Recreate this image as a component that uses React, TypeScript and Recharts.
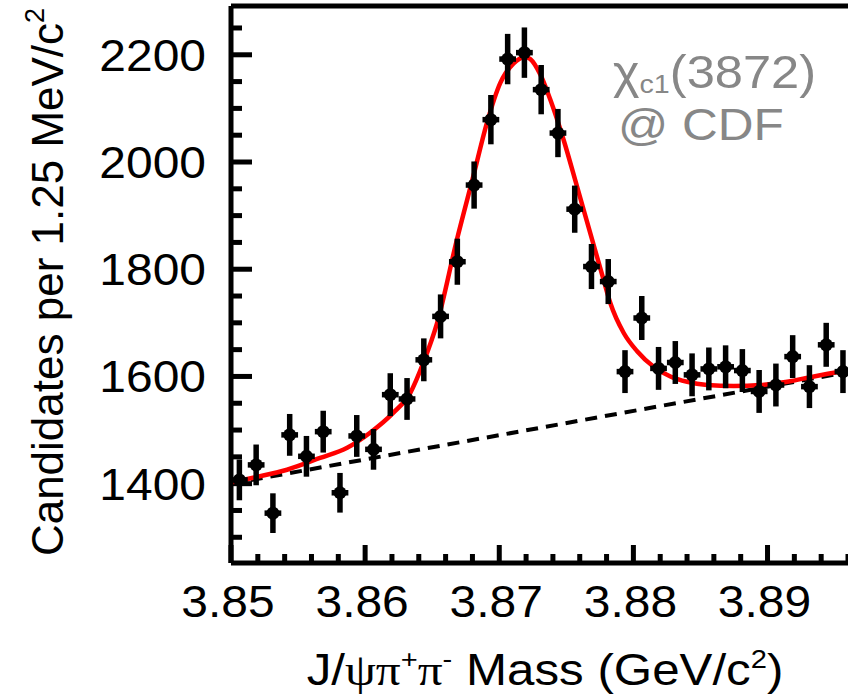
import React from 'react';
import {
  ComposedChart,
  XAxis,
  YAxis,
  Line,
  Scatter,
  ErrorBar,
  ReferenceLine,
  Customized,
} from 'recharts';

const FONT = '"Liberation Sans", Arial, Helvetica, sans-serif';
const SERIF = '"Liberation Serif", "DejaVu Serif", serif';

const binMass = [
  3.850625, 3.851875, 3.853125, 3.854375, 3.855625, 3.856875, 3.858125, 3.859375,
  3.860625, 3.861875, 3.863125, 3.864375, 3.865625, 3.866875, 3.868125, 3.869375,
  3.870625, 3.871875, 3.873125, 3.874375, 3.875625, 3.876875, 3.878125, 3.879375,
  3.880625, 3.881875, 3.883125, 3.884375, 3.885625, 3.886875, 3.888125, 3.889375,
  3.890625, 3.891875, 3.893125, 3.894375, 3.895625,
];
const counts = [
  1407, 1435, 1345, 1491, 1451, 1497, 1383, 1489,
  1464, 1566, 1558, 1631, 1712, 1814, 1957, 2079,
  2192, 2204, 2135, 2054, 1912, 1805, 1777, 1609,
  1709, 1615, 1626, 1603, 1614, 1618, 1611, 1572,
  1584, 1637, 1581, 1659, 1609,
];
const countErr = [
  38, 38, 37, 39, 38, 39, 37, 39,
  38, 40, 39, 40, 41, 43, 44, 46,
  47, 47, 46, 45, 44, 42, 42, 40,
  41, 40, 40, 40, 40, 40, 40, 40,
  40, 40, 40, 41, 40,
];
const binHalfWidth = 0.000625;

const fitMass = [
  3.85, 3.85164, 3.85418, 3.85664, 3.85866, 3.86037, 3.86209, 3.86336,
  3.86433, 3.86537, 3.86684, 3.86808, 3.86908, 3.87007, 3.87107, 3.87194,
  3.87231, 3.87306, 3.87381, 3.8748, 3.8758, 3.87679, 3.87778, 3.87828,
  3.87928, 3.88028, 3.88151, 3.88276, 3.88401, 3.8855, 3.88749, 3.88948,
  3.89147, 3.89346, 3.89595,
];
const fitCounts = [
  1402, 1411, 1426, 1448, 1467, 1495, 1532, 1569,
  1625, 1700, 1855, 1975, 2073, 2147, 2184, 2196,
  2192, 2163, 2116, 2041, 1954, 1867, 1780, 1737,
  1681, 1647, 1618, 1600, 1590, 1584, 1582, 1584,
  1590, 1600, 1611,
];

const bgMass = [3.85, 3.896];
const bgCounts = [1400, 1608];

const xMinorTicks = [
  3.85, 3.852, 3.854, 3.856, 3.858, 3.86, 3.862, 3.864, 3.866, 3.868,
  3.87, 3.872, 3.874, 3.876, 3.878, 3.88, 3.882, 3.884, 3.886, 3.888,
  3.89, 3.892, 3.894, 3.896,
];
const xMajorTicks = [3.85, 3.86, 3.87, 3.88, 3.89];
const yMinorTicks = [
  1300, 1350, 1400, 1450, 1500, 1550, 1600, 1650, 1700, 1750,
  1800, 1850, 1900, 1950, 2000, 2050, 2100, 2150, 2200, 2250,
];
const yMajorTicks = [1400, 1600, 1800, 2000, 2200];

const X_DOMAIN: [number, number] = [3.85, 3.896];
const Y_DOMAIN: [number, number] = [1252, 2291];

const CHART_W = 848;
const CHART_H = 697;
const MARGIN = { top: 6, right: 0, bottom: 0, left: 0 };
const Y_AXIS_W = 231;
const X_AXIS_H = 134;
const PLOT_LEFT = MARGIN.left + Y_AXIS_W;
const PLOT_TOP = MARGIN.top;
const PLOT_W = CHART_W - PLOT_LEFT - MARGIN.right;
const PLOT_H = CHART_H - PLOT_TOP - MARGIN.bottom - X_AXIS_H;

const points = binMass.map((m, i) => ({ m, v: counts[i], ey: countErr[i], ex: binHalfWidth }));
const fit = fitMass.map((m, i) => ({ m, v: fitCounts[i] }));
const bg = bgMass.map((m, i) => ({ m, v: bgCounts[i] }));

const TICK_FONT = 44;
const STRETCH = 1.09;
const isMajor = (v: number, list: number[]) => list.some((t) => Math.abs(t - v) < 1e-9);

const renderYTick = (props: any) => {
  const x = Number(props.x);
  const y = Number(props.y);
  const v = Number(props.payload.value);
  return (
    <g transform={`translate(${x},${y}) scale(${STRETCH},1)`}>
      <text x={0} y={0} dy="0.36em" textAnchor="end" fontFamily={FONT} fontSize={TICK_FONT} fill="#000">
        {v}
      </text>
    </g>
  );
};

const renderXTick = (props: any) => {
  const x = Number(props.x);
  const y = Number(props.y);
  const v = Number(props.payload.value);
  return (
    <g transform={`translate(${x - 3},${y}) scale(${STRETCH},1)`}>
      <text x={0} y={0} textAnchor="middle" fontFamily={FONT} fontSize={TICK_FONT} fill="#000">
        {v.toFixed(2)}
      </text>
    </g>
  );
};

const px = (m: number) => PLOT_LEFT + ((m - X_DOMAIN[0]) / (X_DOMAIN[1] - X_DOMAIN[0])) * PLOT_W;
const py = (v: number) => PLOT_TOP + ((Y_DOMAIN[1] - v) / (Y_DOMAIN[1] - Y_DOMAIN[0])) * PLOT_H;

// inward tick marks drawn as filled rectangles
function TickMarks() {
  const bottom = PLOT_TOP + PLOT_H;
  const w = 5;
  return (
    <g fill="#000" stroke="none">
      {yMinorTicks.map((v) => {
        const len = isMajor(v, yMajorTicks) ? 21 : 11;
        return <rect key={`y${v}`} x={PLOT_LEFT} y={py(v) - w / 2} width={len} height={w} />;
      })}
      {xMinorTicks.map((t) => {
        const len = isMajor(t, xMajorTicks) ? 18 : 9;
        return <rect key={`x${t}`} x={px(t) - w / 2} y={bottom - len} width={w} height={len} />;
      })}
    </g>
  );
}

function Texts() {
  return (
    <g fontFamily={FONT}>
      <TickMarks />
      <text
        transform="translate(63,282) rotate(-90)"
        textAnchor="middle"
        fontSize={44}
        fill="#000"
      >
        Candidates per 1.25 MeV/c
        <tspan fontSize={27} dy={-19}>2</tspan>
      </text>
      <g transform={`translate(545,685) scale(1.12,1)`}>
        <text x={0} y={0} textAnchor="middle" fontSize={44} fill="#000">
          J/
          <tspan fontFamily={SERIF}>ψπ</tspan>
          <tspan fontSize={26} dy={-17}>+</tspan>
          <tspan fontFamily={SERIF} dy={17}>π</tspan>
          <tspan fontSize={26} dy={-17}>-</tspan>
          <tspan dy={17}> Mass (GeV/c</tspan>
          <tspan fontSize={26} dy={-17}>2</tspan>
          <tspan dy={17}>)</tspan>
        </text>
      </g>
      <g transform={`translate(613,88) scale(1.1,1)`}>
        <text x={0} y={0} fontSize={46} fill="#878787">
          χ
          <tspan fontSize={26} dy={5}>c1</tspan>
          <tspan dy={-5}>(3872)</tspan>
        </text>
      </g>
      <g transform={`translate(618,140) scale(1.1,1)`}>
        <text x={0} y={0} fontSize={45} fill="#878787">
          @ CDF
        </text>
      </g>
    </g>
  );
}

export default function App() {
  return (
    <div style={{ position: 'absolute', left: 0, top: 0, width: CHART_W, height: CHART_H, background: '#fff', overflow: 'hidden' }}>
      <ComposedChart width={CHART_W} height={CHART_H} margin={MARGIN}>
        <XAxis
          dataKey="m"
          type="number"
          domain={X_DOMAIN}
          allowDataOverflow
          ticks={xMajorTicks}
          interval={0}
          height={X_AXIS_H}
          tickSize={0}
          tickMargin={54}
          tickLine={false}
          axisLine={{ stroke: '#000', strokeWidth: 5 }}
          tick={renderXTick}
        />
        <YAxis
          type="number"
          domain={Y_DOMAIN}
          allowDataOverflow
          ticks={yMajorTicks}
          interval={0}
          width={Y_AXIS_W}
          tickSize={0}
          tickMargin={25}
          tickLine={false}
          axisLine={{ stroke: '#000', strokeWidth: 5 }}
          tick={renderYTick}
        />
        <ReferenceLine y={Y_DOMAIN[1]} stroke="#000" strokeWidth={5} ifOverflow="visible" />
        <Line
          data={bg}
          dataKey="v"
          type="linear"
          stroke="#000"
          strokeWidth={4}
          strokeDasharray="12 8"
          dot={false}
          isAnimationActive={false}
        />
        <Line
          data={fit}
          dataKey="v"
          type="monotone"
          stroke="#ff0000"
          strokeWidth={4.5}
          dot={false}
          isAnimationActive={false}
        />
        <Scatter
          data={points}
          dataKey="v"
          fill="#000"
          isAnimationActive={false}
          shape={(p: any) => <circle cx={p.cx} cy={p.cy} r={6.5} fill="#000" />}
        >
          <ErrorBar dataKey="ey" direction="y" width={0} stroke="#000" strokeWidth={5.5} isAnimationActive={false} />
          <ErrorBar dataKey="ex" direction="x" width={0} stroke="#000" strokeWidth={5.5} isAnimationActive={false} />
        </Scatter>
        <Customized component={Texts} />
      </ComposedChart>
    </div>
  );
}
